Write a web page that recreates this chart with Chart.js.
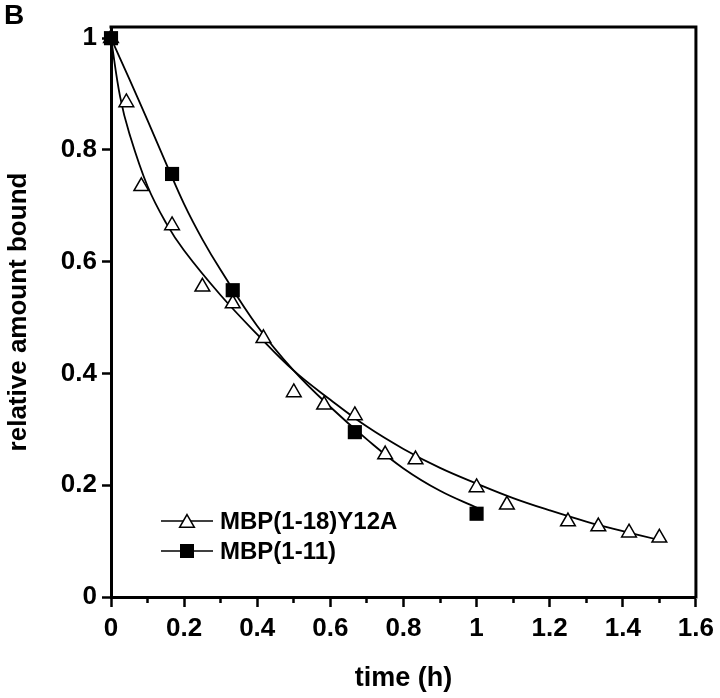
<!DOCTYPE html>
<html>
<head>
<meta charset="utf-8">
<script src="https://cdn.jsdelivr.net/npm/chart.js@4.4.1/dist/chart.umd.min.js"></script>
<style>
  html, body { margin: 0; padding: 0; background: #fff; }
  #wrap { position: relative; width: 720px; height: 698px; }
</style>
</head>
<body>
<div id="wrap"><canvas id="data-chart" width="720" height="698"></canvas></div>
<script>
// measured points
var triTime  = [0, 0.042, 0.083, 0.167, 0.25, 0.333, 0.417, 0.5, 0.583, 0.667, 0.75, 0.833, 1.0, 1.083, 1.25, 1.333, 1.417, 1.5];
var triBound = [1.0, 0.885, 0.735, 0.665, 0.555, 0.525, 0.463, 0.366, 0.344, 0.325, 0.255, 0.246, 0.196, 0.165, 0.135, 0.126, 0.115, 0.106];
var sqTime  = [0, 0.167, 0.333, 0.667, 1.0];
var sqBound = [1.0, 0.757, 0.549, 0.295, 0.149];

// fitted curves
var triFitTime  = [0, 0.025, 0.05, 0.1, 0.15, 0.2, 0.3, 0.4, 0.5, 0.6, 0.7, 0.8, 0.9, 1.0, 1.1, 1.2, 1.3, 1.4, 1.5];
var triFitBound = [1.0, 0.895, 0.83, 0.735, 0.67, 0.62, 0.54, 0.47, 0.405, 0.353, 0.305, 0.265, 0.231, 0.203, 0.177, 0.155, 0.135, 0.118, 0.102];
var sqFitTime  = [0, 0.05, 0.1, 0.15, 0.2, 0.25, 0.3, 0.4, 0.5, 0.6, 0.7, 0.8, 0.9, 1.0];
var sqFitBound = [1.0, 0.927, 0.853, 0.777, 0.703, 0.64, 0.585, 0.485, 0.405, 0.34, 0.282, 0.23, 0.19, 0.16];

var xTicks = [0, 0.2, 0.4, 0.6, 0.8, 1, 1.2, 1.4, 1.6];
var yTicks = [0, 0.2, 0.4, 0.6, 0.8, 1];

var seriesNames = ['MBP(1-18)Y12A', 'MBP(1-11)'];

function pts(xs, ys) {
    return xs.map(function (x, i) { return { x: x, y: ys[i] }; });
}

var FONT = '"Liberation Sans", Arial, Helvetica, sans-serif';

// top and right frame lines, panel letter, legend
var extras = {
    id: 'extras',
    afterDraw: function (chart) {
        var c = chart.ctx, a = chart.chartArea;
        c.save();
        c.strokeStyle = '#000';
        c.lineWidth = 3;
        c.beginPath();
        c.moveTo(a.left - 1.5, a.top);
        c.lineTo(a.right, a.top);
        c.lineTo(a.right, a.bottom + 1.5);
        c.stroke();

        c.fillStyle = '#000';
        c.font = 'bold 28px ' + FONT;
        c.textBaseline = 'alphabetic';
        c.fillText('B', 4, 24);

        // legend
        var rows = [{ y: 521, tri: true }, { y: 551, tri: false }];
        rows.forEach(function (r, i) {
            c.lineWidth = 1.5;
            c.beginPath();
            c.moveTo(161, r.y);
            c.lineTo(213, r.y);
            c.stroke();
            if (r.tri) {
                var rad = 8.5;
                c.beginPath();
                c.moveTo(187, r.y - rad + 2);
                c.lineTo(187 + rad * 0.866, r.y + rad / 2 + 2);
                c.lineTo(187 - rad * 0.866, r.y + rad / 2 + 2);
                c.closePath();
                c.fillStyle = '#fff';
                c.fill();
                c.lineWidth = 1.5;
                c.stroke();
            } else {
                c.fillStyle = '#000';
                c.fillRect(180, r.y - 7, 14, 14);
            }
            c.fillStyle = '#000';
            c.font = 'bold 24px ' + FONT;
            c.fillText(seriesNames[i], 220, r.y + 8);
        });
        c.restore();
    }
};

var ctx = document.getElementById('data-chart').getContext('2d');
var chart = new Chart(ctx, {
    type: 'scatter',
    data: {
        datasets: [{
            label: seriesNames[1],
            data: pts(sqTime, sqBound),
            order: 0,
            pointStyle: 'rect',
            pointRadius: 10,
            backgroundColor: '#000',
            borderColor: '#000',
            borderWidth: 0,
            clip: false
        }, {
            label: seriesNames[0],
            data: pts(triTime, triBound),
            order: 1,
            pointStyle: 'triangle',
            pointRadius: 8.5,
            backgroundColor: '#fff',
            borderColor: '#000',
            borderWidth: 1.5,
            clip: false
        }, {
            label: 'fit ' + seriesNames[0],
            data: pts(triFitTime, triFitBound),
            order: 2,
            showLine: true,
            pointRadius: 0,
            borderColor: '#000',
            borderWidth: 1.8,
            tension: 0.4,
            clip: false
        }, {
            label: 'fit ' + seriesNames[1],
            data: pts(sqFitTime, sqFitBound),
            order: 2,
            showLine: true,
            pointRadius: 0,
            borderColor: '#000',
            borderWidth: 1.8,
            tension: 0.4,
            clip: false
        }]
    },
    options: {
        responsive: false,
        animation: false,
        events: [],
        layout: {
            padding: { left: 0, right: 23, top: 27, bottom: 0 }
        },
        plugins: {
            legend: { display: false },
            tooltip: { enabled: false }
        },
        scales: {
            x: {
                type: 'linear',
                position: 'bottom',
                weight: 1,
                min: 0,
                max: 1.6,
                afterFit: function (s) { s.height = 101; },
                afterBuildTicks: function (s) {
                    s.ticks = xTicks.map(function (v) { return { value: v }; });
                },
                border: { display: true, color: '#000', width: 3 },
                grid: { drawOnChartArea: false, drawTicks: true, tickLength: 10, tickWidth: 2.5, tickColor: '#000' },
                ticks: {
                    color: '#000',
                    padding: 6,
                    maxRotation: 0,
                    font: { family: FONT, size: 26, weight: 'bold' },
                    callback: function (v) { return String(Number(v.toFixed(1))); }
                },
                title: {
                    display: true,
                    text: 'time (h)',
                    color: '#000',
                    padding: { top: 0, bottom: 3 },
                    font: { family: FONT, size: 27, weight: 'bold' }
                }
            },
            xMinor: {
                type: 'linear',
                position: 'bottom',
                weight: 0,
                min: 0,
                max: 1.6,
                afterFit: function (s) { s.height = 0; },
                afterBuildTicks: function (s) {
                    var t = [];
                    for (var i = 0; i < xTicks.length - 1; i++) {
                        t.push({ value: (xTicks[i] + xTicks[i + 1]) / 2 });
                    }
                    s.ticks = t;
                },
                border: { display: false },
                grid: { drawOnChartArea: false, drawTicks: true, tickLength: 6, tickWidth: 2.5, tickColor: '#000' },
                ticks: { display: false }
            },
            y: {
                type: 'linear',
                min: 0,
                max: 1.02,
                afterFit: function (s) { s.width = 111; },
                afterBuildTicks: function (s) {
                    s.ticks = yTicks.map(function (v) { return { value: v }; });
                },
                border: { display: true, color: '#000', width: 3 },
                grid: { drawOnChartArea: false, drawTicks: true, tickLength: 9, tickWidth: 2.5, tickColor: '#000' },
                ticks: {
                    color: '#000',
                    padding: 5,
                    font: { family: FONT, size: 26, weight: 'bold' },
                    callback: function (v) { return String(Number(v.toFixed(1))); }
                },
                title: {
                    display: true,
                    text: 'relative amount bound',
                    color: '#000',
                    padding: { top: 3, bottom: 0 },
                    font: { family: FONT, size: 26, weight: 'bold' }
                }
            }
        }
    },
    plugins: [extras]
});
</script>
</body>
</html>
